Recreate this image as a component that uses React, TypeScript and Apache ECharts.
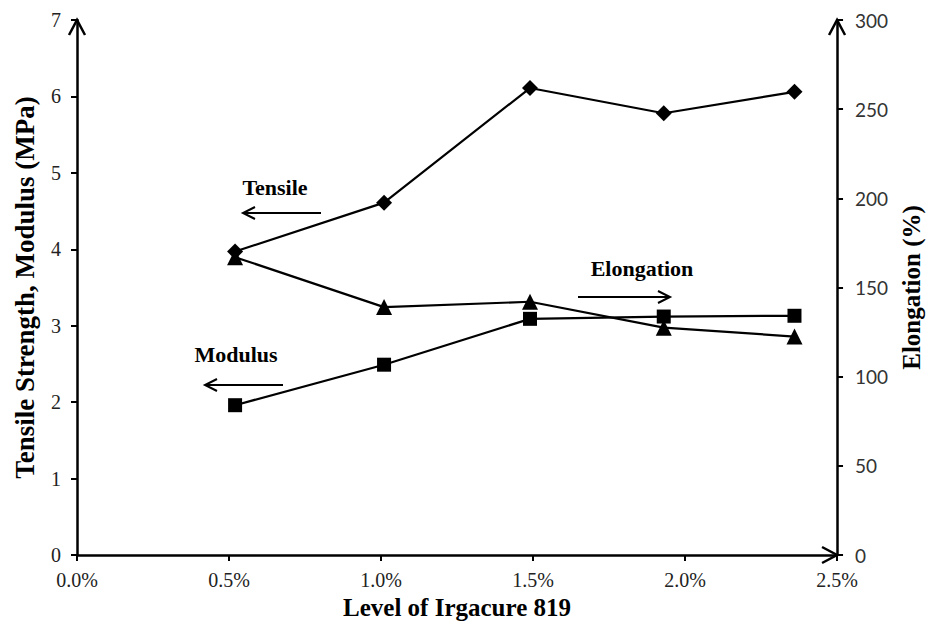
import React, { useEffect, useRef } from "react";
import * as echarts from "echarts";

// Data
const levels = [0.52, 1.01, 1.49, 1.93, 2.36]; // % Irgacure 819
const tensile = [3.97, 4.61, 6.11, 5.78, 6.06]; // MPa
const modulus = [1.96, 2.49, 3.09, 3.12, 3.13]; // MPa
const elongation = [167, 139, 142, 127.5, 122.5]; // %

const xMin = 0;
const xMax = 2.5;
const xInterval = 0.5;
const yLeftMax = 7;
const yRightMax = 300;

const serif = "'Liberation Serif', 'Times New Roman', serif";
const sans = "Lato, 'Open Sans', 'Liberation Sans', sans-serif";

export default function App() {
  const ref = useRef<HTMLDivElement>(null);

  useEffect(() => {
    document.body.style.margin = "0";
    const chart = echarts.init(ref.current!, undefined, { renderer: "svg" });
    const pair = (vals: number[]) => levels.map((x, i) => [x, vals[i]]);
    const lineStyle = { color: "#000", width: 2.2 };
    chart.setOption({
      animation: false,
      backgroundColor: "#fff",
      grid: { left: 77, right: 89, top: 20, bottom: 69, containLabel: false },
      xAxis: {
        type: "value",
        min: xMin,
        max: xMax,
        interval: xInterval,
        name: "Level of Irgacure 819",
        nameLocation: "middle",
        nameGap: 40,
        nameTextStyle: { fontFamily: serif, fontWeight: "bold", fontSize: 25, color: "#000" },
        axisLine: { show: true, lineStyle: { color: "#000", width: 2.5 } },
        axisTick: { show: true, length: 6, lineStyle: { color: "#000", width: 2 } },
        axisLabel: {
          fontFamily: serif,
          fontSize: 20,
          color: "#222",
          margin: 15,
          formatter: (v: number) => v.toFixed(1) + "%",
        },
        splitLine: { show: false },
      },
      yAxis: [
        {
          type: "value",
          position: "left",
          min: 0,
          max: yLeftMax,
          interval: 1,
          name: "Tensile Strength, Modulus (MPa)",
          nameLocation: "middle",
          nameRotate: 90,
          nameGap: 39,
          nameTextStyle: { fontFamily: serif, fontWeight: "bold", fontSize: 27, color: "#000" },
          axisLine: { show: true, lineStyle: { color: "#000", width: 2.5 } },
          axisTick: { show: true, length: 6, lineStyle: { color: "#000", width: 2 } },
          axisLabel: { fontFamily: serif, fontSize: 20, color: "#222", margin: 16 },
          splitLine: { show: false },
        },
        {
          type: "value",
          position: "right",
          min: 0,
          max: yRightMax,
          interval: 50,
          name: "Elongation (%)",
          nameLocation: "middle",
          nameRotate: 90,
          nameGap: 60,
          nameTextStyle: { fontFamily: serif, fontWeight: "bold", fontSize: 25, color: "#000" },
          axisLine: { show: true, lineStyle: { color: "#000", width: 2.5 } },
          axisTick: { show: true, length: 6, lineStyle: { color: "#000", width: 2 } },
          axisLabel: { fontFamily: sans, fontSize: 19, color: "#333", margin: 18 },
          splitLine: { show: false },
        },
      ],
      series: [
        {
          name: "Tensile",
          type: "line",
          yAxisIndex: 0,
          data: pair(tensile),
          symbol: "diamond",
          symbolSize: 16,
          itemStyle: { color: "#000" },
          lineStyle,
        },
        {
          name: "Modulus",
          type: "line",
          yAxisIndex: 0,
          data: pair(modulus),
          symbol: "rect",
          symbolSize: 14,
          itemStyle: { color: "#000" },
          lineStyle,
        },
        {
          name: "Elongation",
          type: "line",
          yAxisIndex: 1,
          data: pair(elongation),
          symbol: "triangle",
          symbolSize: 16,
          itemStyle: { color: "#000" },
          lineStyle,
        },
      ],
    });

    // Axis arrowheads (positioned via the axes) and text annotations
    const toPx = (x: number, y: number) =>
      chart.convertToPixel({ xAxisIndex: 0, yAxisIndex: 0 }, [x, y]) as number[];
    const topLeft = toPx(xMin, yLeftMax);
    const rightEnd = toPx(xMax, 0);
    const topRight = toPx(xMax, yLeftMax);
    const chevronStyle = { stroke: "#000", lineWidth: 2.5, fill: "none" };
    const upChevron = (p: number[]) => ({
      type: "polyline",
      shape: { points: [[p[0] - 8, p[1] + 15], [p[0], p[1]], [p[0] + 8, p[1] + 15]] },
      style: chevronStyle,
      z: 10,
    });
    const rightChevron = (p: number[]) => ({
      type: "polyline",
      shape: { points: [[p[0] - 15, p[1] - 8], [p[0], p[1]], [p[0] - 15, p[1] + 8]] },
      style: chevronStyle,
      z: 10,
    });
    const arrow = (x1: number, x2: number, y: number) => {
      const dir = x2 > x1 ? 1 : -1;
      return [
        { type: "line", shape: { x1, y1: y, x2, y2: y }, style: { stroke: "#000", lineWidth: 2 } },
        {
          type: "polyline",
          shape: { points: [[x2 - dir * 12, y - 6], [x2, y], [x2 - dir * 12, y + 6]] },
          style: { stroke: "#000", lineWidth: 2, fill: "none" },
        },
      ];
    };
    const label = (text: string, cx: number, cy: number) => ({
      type: "text",
      x: cx,
      y: cy,
      style: {
        text,
        fontFamily: serif,
        fontWeight: "bold",
        fontSize: 22,
        fill: "#000",
        align: "center",
        verticalAlign: "middle",
      },
    });
    chart.setOption({
      graphic: [
        upChevron(topLeft),
        upChevron(topRight),
        rightChevron(rightEnd),
        label("Tensile", 275, 187),
        ...arrow(321, 243, 213),
        label("Modulus", 236, 354),
        ...arrow(283, 205, 385),
        label("Elongation", 642, 268),
        ...arrow(578, 670, 297),
      ],
    });

    return () => chart.dispose();
  }, []);

  return (
    <div
      ref={ref}
      style={{ position: "absolute", left: 0, top: 0, width: 932, height: 625 }}
    />
  );
}
